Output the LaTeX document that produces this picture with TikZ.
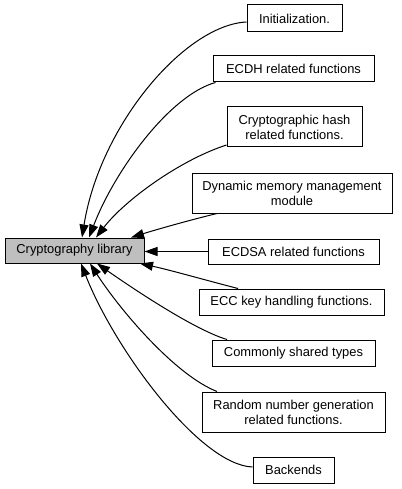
\documentclass[tikz,border=0pt]{standalone}
\usepackage{fontspec}
\setmainfont{Liberation Sans}
\usetikzlibrary{arrows.meta}

\definecolor{grpgray}{HTML}{BFBFBF}

\tikzset{
    grp/.style={draw, line width=1pt, inner sep=0pt, align=center,
        font=\fontsize{12.9}{15}\selectfont},
    dep/.style={line width=1pt, -{Triangle[length=13pt,width=9pt]}}
}

\begin{document}
\begin{tikzpicture}[x=1pt,y=-1pt]
        \useasboundingbox (0,0) rectangle (401,489);

        % Nodes
        \node[grp, fill=grpgray, minimum width=139pt, minimum height=25pt] (crypto) at (74.5,250.5) {Cryptography library};

        \foreach \name/\x/\y/\w/\h/\txt in {
            init/294.5/18.5/95/27/{Initialization.},
            ecdh/293.5/69/161/26/{ECDH related functions},
            hash/294.5/127/135/40/{Cryptographic hash\\related functions.},
            dyn/292/193/200/40/{Dynamic memory management\\module},
            ecdsa/293.5/251.5/171/25/{ECDSA related functions},
            ecc/291.5/302/185/26/{ECC key handling functions.},
            common/293.5/353/163/26/{Commonly shared types},
            random/293.5/412/183/40/{Random number generation\\related functions.},
            backends/293.5/470/81/26/{Backends}} {
            \node[grp, minimum width=\w pt, minimum height=\h pt] (\name) at (\x,\y) {\txt};
        }

        % Edges
        \draw[dep] ([yshift=-3.5pt]init.west) .. controls (185,25) and (100,125) .. ([xshift=7.5pt]crypto.north);
        \draw[dep] ([xshift=3pt]ecdh.south west) .. controls (170,95) and (115,170) .. ([xshift=14.5pt]crypto.north);
        \draw[dep] ([yshift=-18pt]hash.west) .. controls (180,160) and (125,200) .. ([xshift=21.5pt]crypto.north);
        \draw[dep] ([xshift=-75pt]dyn.south) .. controls (190,220) and (155,230) .. ([xshift=56.5pt]crypto.north);
        \draw[dep] (ecdsa.west) -- (ecdsa.west -| crypto.east);
        \draw[dep] ([xshift=-53.5pt]ecc.north) .. controls (205,280) and (170,270) .. ([xshift=65.5pt]crypto.south);
        \draw[dep] ([xshift=-66.5pt]common.north) .. controls (195,330) and (135,290) .. ([xshift=22.5pt]crypto.south);
        \draw[dep] ([xshift=-76.5pt]random.north) .. controls (175,375) and (120,310) .. ([xshift=15.5pt]crypto.south);
        \draw[dep] ([yshift=3pt]backends.west) .. controls (200,465) and (115,350) .. ([xshift=6.5pt]crypto.south);
    \end{tikzpicture}
\end{document}
